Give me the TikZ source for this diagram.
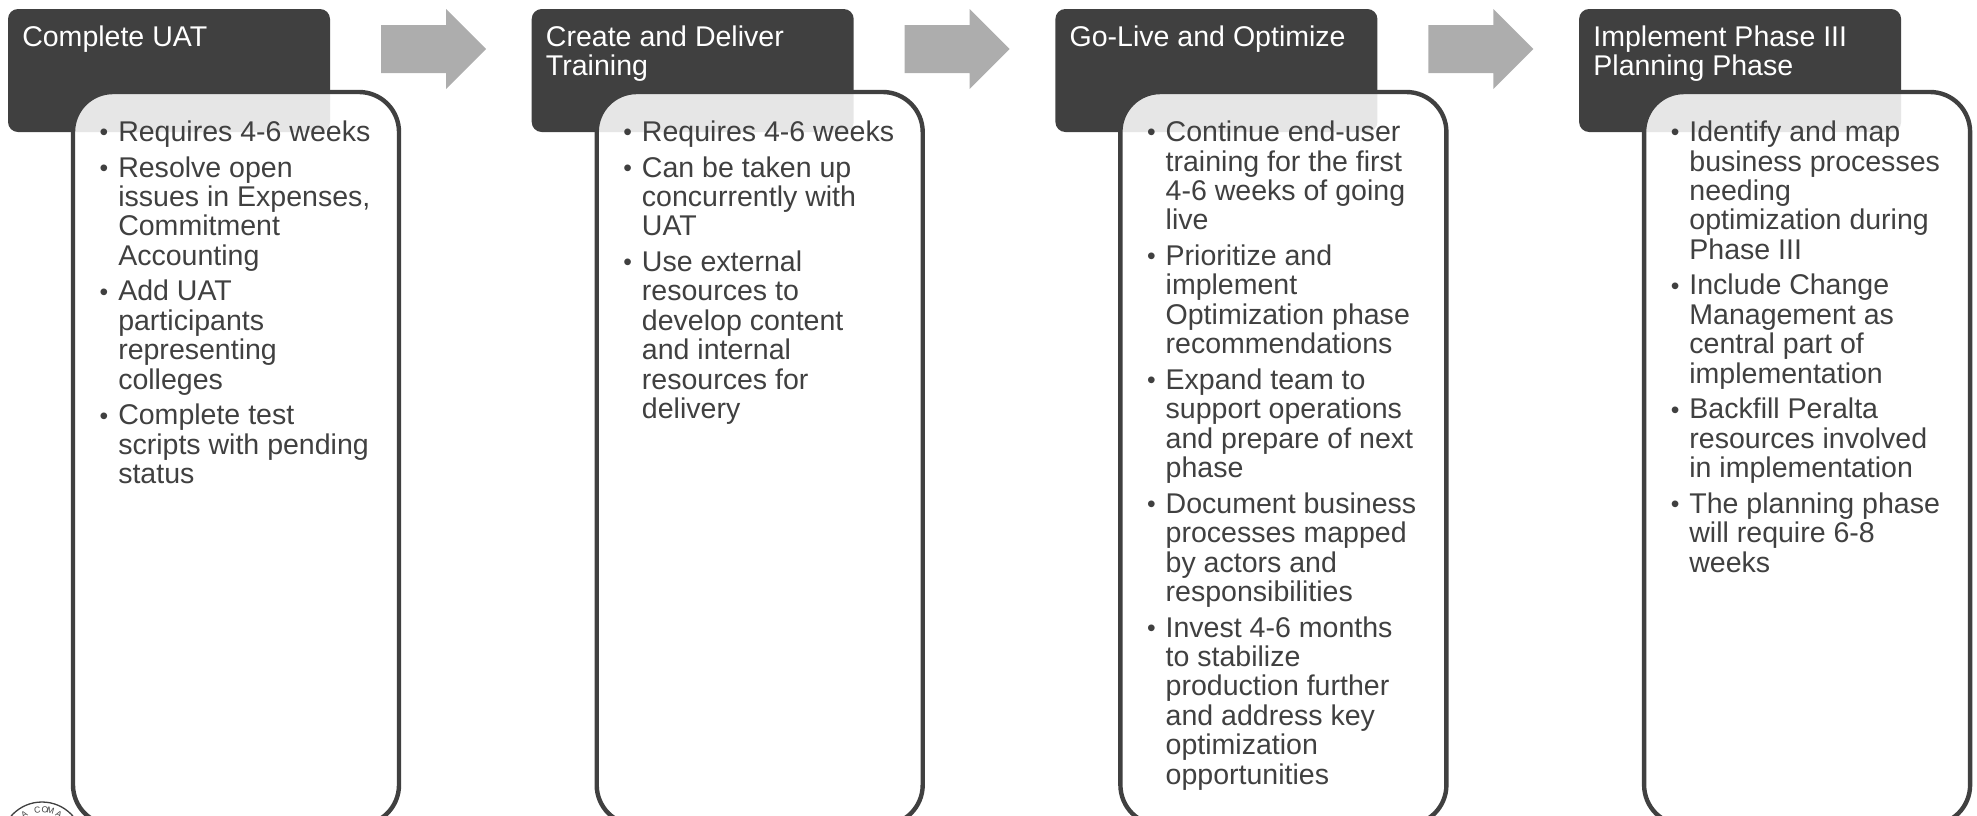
\documentclass[tikz,border=0pt]{standalone}
\usepackage{fontspec}
\setmainfont{Liberation Sans}
\usetikzlibrary{shapes.arrows}
\definecolor{dk}{HTML}{404040}
\definecolor{arr}{HTML}{ADADAD}
\newlength{\pxu}\setlength{\pxu}{0.75pt}
\newcommand{\bu}{\leavevmode\llap{\raisebox{0.5pt}{\fontsize{18.5pt}{18.5pt}\selectfont\textbullet}\hspace{10\pxu}}\rule{0pt}{20\pxu}}
\newcommand{\nb}{\\[6\pxu]}
\tikzset{
  x=0.75pt,y=-0.75pt,
  head/.style={fill=dk,rounded corners=10\pxu},
  card/.style={draw=dk,line width=4.4\pxu,fill=white,fill opacity=0.87,rounded corners=40\pxu},
  bigarrow/.style={fill=arr},
  headtxt/.style={anchor=north west,inner sep=0pt,align=left,text=white,font=\fontsize{21.4pt}{22.1pt}\selectfont},
  listtxt/.style={anchor=north west,inner sep=0pt,align=left,text=dk,font=\fontsize{21.4pt}{22.1pt}\selectfont},
}
\begin{document}
\begin{tikzpicture}
\useasboundingbox (0,0) rectangle (1977,815);
\clip (0,0) rectangle (1977,815);
% seal at the lower left
\draw[dk,line width=1.3\pxu] (42,843) circle (41);
\foreach \a/\c in {122/A,98/C,85/O,75/M,60/A}{
  \node[rotate=\a-90,text=dk,inner sep=0pt,font=\fontsize{6.5pt}{7pt}\selectfont] at ({42+33.5*cos(\a)},{843-33.5*sin(\a)}) {\c};
}
% columns
\foreach \i/\hd/\bd in {
 0/{Complete UAT}/{\bu Requires 4-6 weeks\nb
  \bu Resolve open\\issues in Expenses,\\Commitment\\Accounting\nb
  \bu Add UAT\\participants\\representing\\colleges\nb
  \bu Complete test\\scripts with pending\\status},
 1/{Create and Deliver\\Training}/{\bu Requires 4-6 weeks\nb
  \bu Can be taken up\\concurrently with\\UAT\nb
  \bu Use external\\resources to\\develop content\\and internal\\resources for\\delivery},
 2/{Go-Live and Optimize}/{\bu Continue end-user\\training for the first\\4-6 weeks of going\\live\nb
  \bu Prioritize and\\implement\\Optimization phase\\recommendations\nb
  \bu Expand team to\\support operations\\and prepare of next\\phase\nb
  \bu Document business\\processes mapped\\by actors and\\responsibilities\nb
  \bu Invest 4-6 months\\to stabilize\\production further\\and address key\\optimization\\opportunities},
 3/{Implement Phase III\\Planning Phase}/{\bu Identify and map\\business processes\\needing\\optimization during\\Phase III\nb
  \bu Include Change\\Management as\\central part of\\implementation\nb
  \bu Backfill Peralta\\resources involved\\in implementation\nb
  \bu The planning phase\\will require 6-8\\weeks}}{
  \begin{scope}[xshift={\i*523.7*0.75pt}]
    \fill[head] (8,9) rectangle (330,132);
    \draw[card] (73,92) rectangle (399,825);
    \node[headtxt] (h\i) at (22,22) {\rule{0pt}{24\pxu}\hd};
    \node[listtxt] (b\i) at (118,120.6) {\bd};
  \end{scope}
}
% arrows
\foreach \i in {0,1,2}{
  \begin{scope}[xshift={\i*523.7*0.75pt}]
    \fill[bigarrow] (381,25) -- (446,25) -- (446,9) -- (486,49) -- (446,89) -- (446,73) -- (381,73) -- cycle;
  \end{scope}
}
\end{tikzpicture}
\end{document}
